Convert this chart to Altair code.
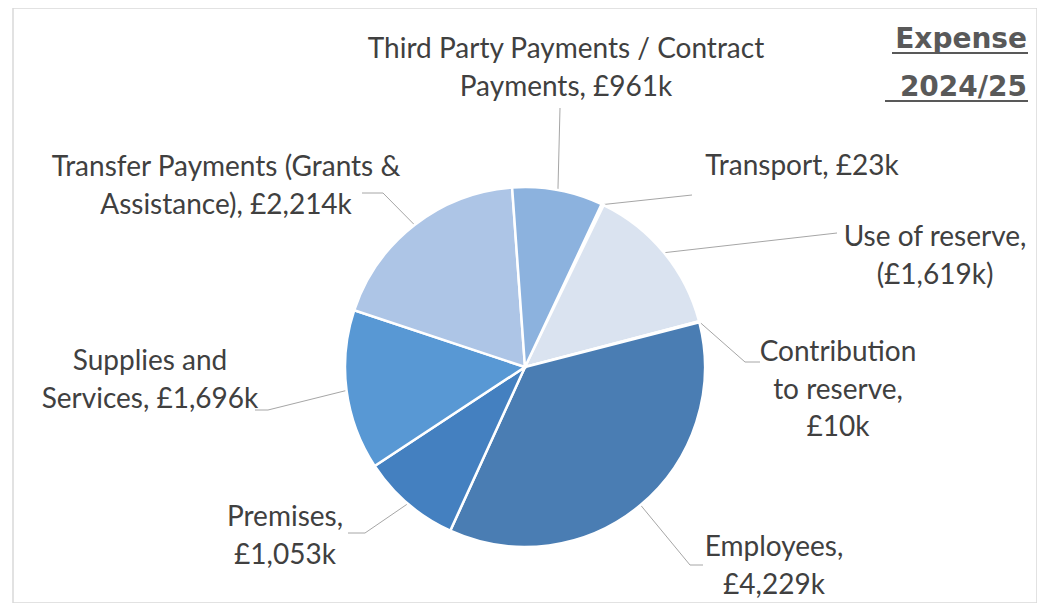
import math
import altair as alt
import pandas as pd

# ---- data ----
categories = ["Transport", "Use of reserve", "Contribution to reserve", "Employees",
              "Premises", "Supplies and Services",
              "Transfer Payments (Grants & Assistance)",
              "Third Party Payments / Contract Payments"]
values = [23, 1619, 10, 4229, 1053, 1696, 2214, 961]
label_texts = ["Transport, £23k",
               "Use of reserve,\n(£1,619k)",
               "Contribution\nto reserve,\n£10k",
               "Employees,\n£4,229k",
               "Premises,\n£1,053k",
               "Supplies and\nServices, £1,696k",
               "Transfer Payments (Grants &\nAssistance), £2,214k",
               "Third Party Payments / Contract\nPayments, £961k"]
colors = ["#6f9fd3", "#dae3f0", "#3e6fa3", "#4a7db3", "#4480c0", "#5898d4", "#adc5e6", "#8cb2de"]

# ---- layout (page pixel coords; converted to chart coords below) ----
OX, OY = 13, 8
CX, CY, R = 525 - OX, 367 - OY, 180
START_DEG = 25.2
label_xy = [(802, 167), (935, 238), (838, 353), (774, 548),
            (285, 518), (150, 362), (226, 168), (566, 50)]
leader_pts = [[(692, 195)], [(837, 233)], [(745, 362), (760, 362)],
              [(690, 565), (703, 565)], [(365, 533), (348, 533)],
              [(268, 410), (255, 410)], [(383, 193), (362, 193)], [(560, 108)]]

FONT = "Lato"
TXT = "#404040"

df = pd.DataFrame({"cat": categories, "value": values, "idx": list(range(len(values))),
                   "color": colors})

total = sum(values)
a0 = math.radians(START_DEG)

pie = alt.Chart(df).mark_arc(radius=R, stroke="white", strokeWidth=2.5).encode(
    theta=alt.Theta("value:Q", stack=True,
                    scale=alt.Scale(range=[a0, a0 + 2 * math.pi])),
    order=alt.Order("idx:Q"),
    color=alt.Color("color:N", scale=None),
    x=alt.value(CX), y=alt.value(CY),
)

# leader lines, starting at each slice's mid angle on the rim
rows = []
cum = 0
for i, v in enumerate(values):
    mid = a0 + (cum + v / 2) / total * 2 * math.pi
    cum += v
    sx = CX + R * math.sin(mid)
    sy = CY - R * math.cos(mid)
    pts = [(sx, sy)] + [(px - OX, py - OY) for px, py in leader_pts[i]]
    for k, (px, py) in enumerate(pts):
        rows.append({"cat": categories[i], "k": k, "x": px, "y": py})
ldf = pd.DataFrame(rows)

leaders = alt.Chart(ldf).mark_line(color="#a6a6a6", strokeWidth=1).encode(
    x=alt.X("x:Q", scale=None), y=alt.Y("y:Q", scale=None),
    detail="cat:N", order="k:Q",
)

tdf = pd.DataFrame({"label": label_texts,
                    "x": [p[0] - OX for p in label_xy],
                    "y": [p[1] - OY for p in label_xy]})
labels = alt.Chart(tdf).mark_text(font=FONT, fontSize=28, color=TXT, align="center",
                                  baseline="middle", lineBreak="\n", lineHeight=37.5).encode(
    x=alt.X("x:Q", scale=None), y=alt.Y("y:Q", scale=None), text="label:N")

title_lines = ["Expense", "2024/25"]
title_base = [48, 96]
title_df = pd.DataFrame({"t": title_lines, "x": [1027 - OX] * 2, "y": [b - OY for b in title_base]})
title = alt.Chart(title_df).mark_text(font="DejaVu Sans", fontSize=28, fontWeight="bold",
                                      color="#595959", align="right",
                                      baseline="alphabetic").encode(
    x=alt.X("x:Q", scale=None), y=alt.Y("y:Q", scale=None), text="t:N")

ul_df = pd.DataFrame({"x": [892 - OX, 885 - OX], "x2": [1028 - OX, 1028 - OX],
                      "y": [53 - OY, 101 - OY]})
underline = alt.Chart(ul_df).mark_rule(color="#595959", strokeWidth=2).encode(
    x=alt.X("x:Q", scale=None), x2="x2:Q", y=alt.Y("y:Q", scale=None))

chart = alt.layer(leaders, pie, labels, title, underline).properties(
    width=1024, height=595,
    padding={"left": 5, "top": 0, "right": 0, "bottom": 0},
    autosize=alt.AutoSizeParams(type="none"),
    background="white",
).configure_view(stroke="#d9d9d9", strokeWidth=1.5)

chart.save("out.html", embed_options={"renderer": "svg", "actions": False})
